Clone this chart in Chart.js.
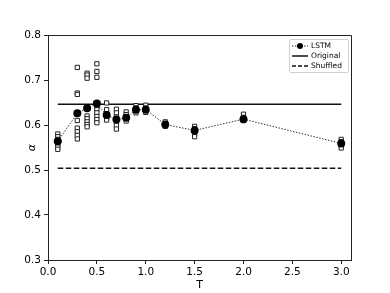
<!DOCTYPE html>
<html>
<head>
<meta charset="utf-8">
<script src="https://cdn.jsdelivr.net/npm/chart.js@4.4.1/dist/chart.umd.min.js"></script>
<style>
  html, body { margin: 0; padding: 0; background: #fff; }
  #wrap { position: relative; width: 390px; height: 293px; }
  #legend {
    position: absolute; left: 289px; top: 39px; width: 58px; height: 32px;
    border: 1px solid #d0d0d0; border-radius: 2px; background: rgba(255,255,255,0.85);
    font-family: "DejaVu Sans", sans-serif; font-size: 7.5px; color: #000;
  }
  .row { position: absolute; left: 0; height: 10px; line-height: 10px; }
  .row svg { position: absolute; left: 2px; top: 0; }
  .row span { position: absolute; left: 21px; top: 0; white-space: nowrap; }
</style>
</head>
<body>
<div id="wrap">
  <canvas id="c" width="390" height="293"></canvas>
  <div id="legend">
    <div class="row" style="top:1px">
      <svg width="16" height="10"><line x1="0" y1="5" x2="16" y2="5" stroke="#333" stroke-width="1" stroke-dasharray="1.5,1.5"/><circle cx="8" cy="5" r="3" fill="#000"/></svg>
      <span>LSTM</span>
    </div>
    <div class="row" style="top:11px">
      <svg width="16" height="10"><line x1="0" y1="5" x2="16" y2="5" stroke="#111" stroke-width="1.5"/></svg>
      <span>Original</span>
    </div>
    <div class="row" style="top:21px">
      <svg width="16" height="10"><line x1="0" y1="5" x2="16" y2="5" stroke="#111" stroke-width="1.5" stroke-dasharray="4,2"/></svg>
      <span>Shuffled</span>
    </div>
  </div>
</div>
<script>
// ---- data ----
const temps = [0.1, 0.3, 0.4, 0.5, 0.6, 0.7, 0.8, 0.9, 1.0, 1.2, 1.5, 2.0, 3.0];
const lstmMean = [0.564, 0.626, 0.637, 0.648, 0.622, 0.612, 0.616, 0.634, 0.634, 0.601, 0.588, 0.613, 0.559];
const lstmRuns = [
  [0.580, 0.574, 0.568, 0.562, 0.556, 0.551, 0.546],
  [0.728, 0.671, 0.668, 0.610, 0.593, 0.585, 0.577, 0.569],
  [0.715, 0.711, 0.704, 0.620, 0.614, 0.607, 0.601, 0.596],
  [0.736, 0.719, 0.706, 0.641, 0.634, 0.627, 0.619, 0.612, 0.605],
  [0.649, 0.634, 0.625, 0.617, 0.611],
  [0.635, 0.627, 0.618, 0.608, 0.599, 0.591],
  [0.629, 0.623, 0.616, 0.609],
  [0.643, 0.638, 0.632, 0.627],
  [0.644, 0.638, 0.632, 0.628],
  [0.607, 0.602, 0.597],
  [0.597, 0.592, 0.586, 0.580, 0.574],
  [0.624, 0.617, 0.610],
  [0.568, 0.563, 0.555, 0.549]
];
const refT = [0.1, 3.0];
const originalAlpha = [0.646, 0.646];
const shuffledAlpha = [0.504, 0.504];
const xTicks = [0.0, 0.5, 1.0, 1.5, 2.0, 2.5, 3.0];
const yTicks = [0.3, 0.4, 0.5, 0.6, 0.7, 0.8];

// ---- build ----
const meanPts = temps.map((t, i) => ({ x: t, y: lstmMean[i] }));
const runPts = [];
temps.forEach((t, i) => lstmRuns[i].forEach(v => runPts.push({ x: t, y: v })));
const origPts = refT.map((t, i) => ({ x: t, y: originalAlpha[i] }));
const shufPts = refT.map((t, i) => ({ x: t, y: shuffledAlpha[i] }));

const AXC = '#222';
const FONT = '"DejaVu Sans", sans-serif';

const framePlugin = {
  id: 'frame',
  afterDraw(chart) {
    const a = chart.chartArea, ctx = chart.ctx;
    const al = p => Math.round(p - 0.5) + 0.5;
    ctx.save();
    ctx.strokeStyle = AXC;
    ctx.lineWidth = 1;
    ctx.beginPath();
    ctx.moveTo(al(a.left), al(a.top));
    ctx.lineTo(al(a.right), al(a.top));
    ctx.lineTo(al(a.right), al(a.bottom));
    ctx.stroke();
    ctx.restore();
  }
};

new Chart(document.getElementById('c'), {
  type: 'scatter',
  data: {
    datasets: [
      {
        label: 'LSTM', data: meanPts, showLine: true,
        borderColor: '#333', borderWidth: 1, borderDash: [1.5, 1.5],
        pointStyle: 'circle', pointRadius: 4, pointBackgroundColor: '#000', pointBorderColor: '#000',
        pointBorderWidth: 0, pointHoverRadius: 4
      },
      {
        label: 'runs', data: runPts, showLine: false,
        pointStyle: 'rect', pointRadius: 3, pointBackgroundColor: '#fff',
        pointBorderColor: '#222', pointBorderWidth: 1
      },
      {
        label: 'Original', data: origPts, showLine: true,
        borderColor: '#111', borderWidth: 1.5, pointRadius: 0
      },
      {
        label: 'Shuffled', data: shufPts, showLine: true,
        borderColor: '#111', borderWidth: 1.5, borderDash: [5.5, 2.5], pointRadius: 0
      }
    ]
  },
  options: {
    responsive: false,
    animation: false,
    layout: { padding: { left: 0, right: 39, top: 35, bottom: 0 } },
    plugins: { legend: { display: false }, tooltip: { enabled: false } },
    scales: {
      x: {
        type: 'linear', min: 0, max: 3.1,
        afterBuildTicks: s => { s.ticks = xTicks.map(v => ({ value: v })); },
        afterFit: s => { s.height = 33; },
        ticks: {
          autoSkip: false, maxRotation: 0, padding: 2,
          color: '#000', font: { family: FONT, size: 10.5 },
          callback: v => Number(v).toFixed(1)
        },
        grid: { drawOnChartArea: false, drawTicks: true, tickLength: 4, color: AXC },
        border: { display: true, color: AXC, width: 1 },
        title: {
          display: true, text: 'T', color: '#000',
          font: { family: FONT, size: 11 }, padding: { top: 0, bottom: 1.5 }
        }
      },
      y: {
        type: 'linear', min: 0.3, max: 0.8,
        afterBuildTicks: s => { s.ticks = yTicks.map(v => ({ value: v })); },
        afterFit: s => { s.width = 48; },
        ticks: {
          autoSkip: false, padding: 3,
          color: '#000', font: { family: FONT, size: 10.5 },
          callback: v => Number(v).toFixed(1)
        },
        grid: { drawOnChartArea: false, drawTicks: true, tickLength: 4, color: AXC },
        border: { display: true, color: AXC, width: 1 },
        title: {
          display: true, text: 'α', color: '#000',
          font: { family: FONT, size: 11, style: 'italic' }, padding: { top: 26, bottom: 0 }
        }
      }
    }
  },
  plugins: [framePlugin]
});
</script>
</body>
</html>
